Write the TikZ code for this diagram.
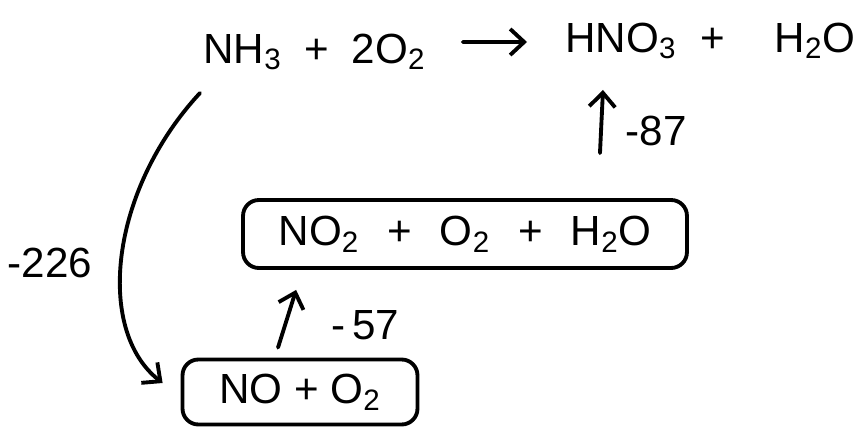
\documentclass[tikz,border=0pt]{standalone}
\usepackage{fontspec}
\setmainfont{Liberation Sans}
\usepackage{tikz}
\usetikzlibrary{positioning, arrows.meta, calc}

\tikzset{
  arr/.style={-{Straight Barb[length=2.8mm, width=5.2mm]}, line width=2.2pt, line cap=round},
  species/.style={inner sep=0pt, font=\fontsize{24}{28}\selectfont},
  stepbox/.style={draw, line width=2.2pt, rounded corners=9pt, font=\fontsize{24}{28}\selectfont},
  enthalpy/.style={inner sep=0pt, font=\fontsize{24}{28}\selectfont}
}
\newcommand{\gap}[1]{\hspace{#1}}

\begin{document}
\begin{tikzpicture}[x=0.02cm, y=-0.02cm]
  \useasboundingbox (0,0) rectangle (862,426);

  % overall reaction
  \node[species, anchor=base west] (lhs) at (203,63)
    {NH\textsubscript{3}\gap{13pt}+\gap{13pt}2O\textsubscript{2}};
  \node[species, anchor=base west] (rhs) at (565,52)
    {HNO\textsubscript{3}\gap{14pt}+\gap{28pt}H\textsubscript{2}O};
  \draw[arr] ([xshift=0.74cm, yshift=0.42cm]lhs.base east) -- ([xshift=-0.76cm, yshift=0.2cm]rhs.base west);

  % intermediate steps
  \node[stepbox, minimum width=8.88cm, minimum height=1.36cm] (no2box) at (465,234)
    {NO\textsubscript{2}\gap{16pt}+\gap{16pt}O\textsubscript{2}\gap{16pt}+\gap{16pt}H\textsubscript{2}O};
  \node[stepbox, minimum width=4.7cm, minimum height=1.3cm] (nobox) at (300,392)
    {NO + O\textsubscript{2}};

  \draw[arr] ([xshift=2.7cm, yshift=0.9cm]no2box.north) -- ([xshift=0.76cm, yshift=-0.76cm]rhs.base west);
  \node[enthalpy] (h87) at (656,131) {-87};

  \draw[arr] ([xshift=-0.44cm, yshift=0.2cm]nobox.north) -- ([xshift=1.1cm, yshift=-0.4cm]no2box.south west);
  \node[enthalpy] (h57) at (365,325) {-\,57};

  \draw[arr] ([xshift=-0.06cm, yshift=-0.6cm]lhs.base west)
    .. controls (110,190) and (95,330) .. ([xshift=-0.36cm, yshift=0.18cm]nobox.west);
  \node[enthalpy] (h226) at (50,263) {-226};
\end{tikzpicture}
\end{document}
